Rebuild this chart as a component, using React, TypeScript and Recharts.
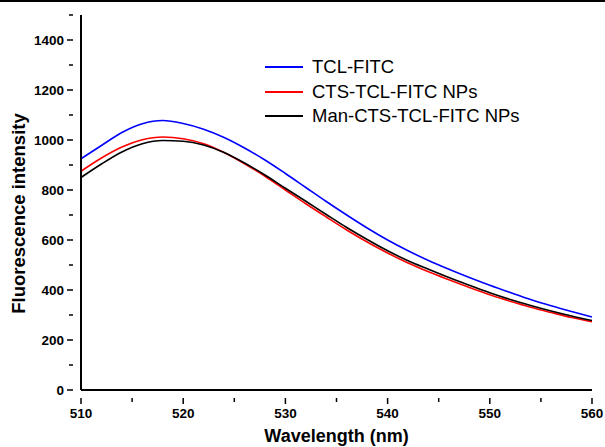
import { LineChart, Line, XAxis, YAxis } from "recharts";

const wavelengths = [510, 512, 514, 516, 518, 520, 522, 524, 526, 528, 530, 532, 534, 536, 538, 540, 542, 544, 546, 548, 550, 552, 554, 556, 558, 560];
const tclFitc = [925, 978, 1030, 1065, 1078, 1066, 1043, 1010, 968, 920, 866, 810, 754, 700, 648, 600, 557, 518, 483, 450, 419, 390, 362, 337, 314, 292];
const ctsNps = [875, 928, 972, 1001, 1012, 1005, 985, 950, 905, 855, 800, 745, 692, 640, 592, 548, 508, 473, 441, 410, 381, 355, 331, 310, 290, 273];
const manNps = [850, 904, 952, 985, 998, 995, 980, 950, 908, 860, 807, 755, 702, 650, 602, 557, 517, 483, 450, 419, 389, 362, 338, 316, 296, 278];

const xTicks = [510, 515, 520, 525, 530, 535, 540, 545, 550, 555, 560];
const xLabels = [510, 520, 530, 540, 550, 560];
const yTicks = [0, 100, 200, 300, 400, 500, 600, 700, 800, 900, 1000, 1100, 1200, 1300, 1400, 1500];
const yLabels = [0, 200, 400, 600, 800, 1000, 1200, 1400];

const series = [
  { key: "tcl", name: "TCL-FITC", color: "#0000ff", values: tclFitc },
  { key: "cts", name: "CTS-TCL-FITC NPs", color: "#ff0000", values: ctsNps },
  { key: "man", name: "Man-CTS-TCL-FITC NPs", color: "#000000", values: manNps },
];

const data = wavelengths.map((w, i) => {
  const row: any = { w };
  series.forEach((s) => (row[s.key] = s.values[i]));
  return row;
});

const font = "Arial, 'Liberation Sans', sans-serif";

const XTick = ({ x, y, payload }: any) => {
  const major = xLabels.includes(payload.value);
  return (
    <g>
      <line x1={x} x2={x} y1={y} y2={y + (major ? 6 : 4)} stroke="#000" strokeWidth={1.5} />
      {major && (
        <text x={x} y={y + 20} textAnchor="middle" fontSize={13.5} fontWeight="bold" fontFamily={font} fill="#000">
          {payload.value}
        </text>
      )}
    </g>
  );
};

const YTick = ({ x, y, payload }: any) => {
  const major = yLabels.includes(payload.value);
  return (
    <g>
      <line x1={x} x2={x - (major ? 6 : 4)} y1={y} y2={y} stroke="#000" strokeWidth={1.5} />
      {major && (
        <text x={x - 9} y={y + 4.5} textAnchor="end" fontSize={13.5} fontWeight="bold" fontFamily={font} fill="#000">
          {payload.value}
        </text>
      )}
    </g>
  );
};

const YLabel = ({ viewBox }: any) => {
  const cx = viewBox.x + 25;
  const cy = viewBox.y + viewBox.height / 2 + 11;
  return (
    <text x={cx} y={cy} transform={`rotate(-90 ${cx} ${cy})`} textAnchor="middle" fontFamily={font} fontSize={18.5} fontWeight="bold" fill="#000">
      Fluorescence intensity
    </text>
  );
};

export default function App() {
  return (
    <div style={{ position: "absolute", left: 0, top: 0, width: 605, height: 447, background: "#fff" }}>
      <div style={{ position: "absolute", left: 0, top: 0, width: 605, height: 2, background: "#000" }} />
      <LineChart width={605} height={447} data={data} margin={{ top: 15, right: 13, bottom: 0, left: 0 }}>
        <XAxis
          dataKey="w"
          type="number"
          domain={[510, 560]}
          ticks={xTicks}
          tick={<XTick />}
          tickLine={false}
          axisLine={{ stroke: "#000", strokeWidth: 2 }}
          height={57}
          interval={0}
          label={{ value: "Wavelength (nm)", position: "insideBottom", offset: 5, style: { fontFamily: font, fontSize: 18, fontWeight: "bold", fill: "#000" } }}
        />
        <YAxis
          type="number"
          domain={[0, 1500]}
          ticks={yTicks}
          tick={<YTick />}
          tickLine={false}
          axisLine={{ stroke: "#000", strokeWidth: 2 }}
          width={81}
          interval={0}
          label={<YLabel />}
        />
        {series.map((s) => (
          <Line key={s.key} dataKey={s.key} name={s.name} type="monotone" stroke={s.color} strokeWidth={1.6} dot={false} isAnimationActive={false} />
        ))}
      </LineChart>
      <div style={{ position: "absolute", left: 265, top: 55, fontFamily: font, fontSize: 18.5, color: "#000" }}>
        {series.map((s) => (
          <div key={s.key} style={{ display: "flex", alignItems: "center", height: 24.5 }}>
            <span style={{ display: "inline-block", width: 38, height: 2, background: s.color, marginRight: 9 }} />
            <span>{s.name}</span>
          </div>
        ))}
      </div>
    </div>
  );
}
